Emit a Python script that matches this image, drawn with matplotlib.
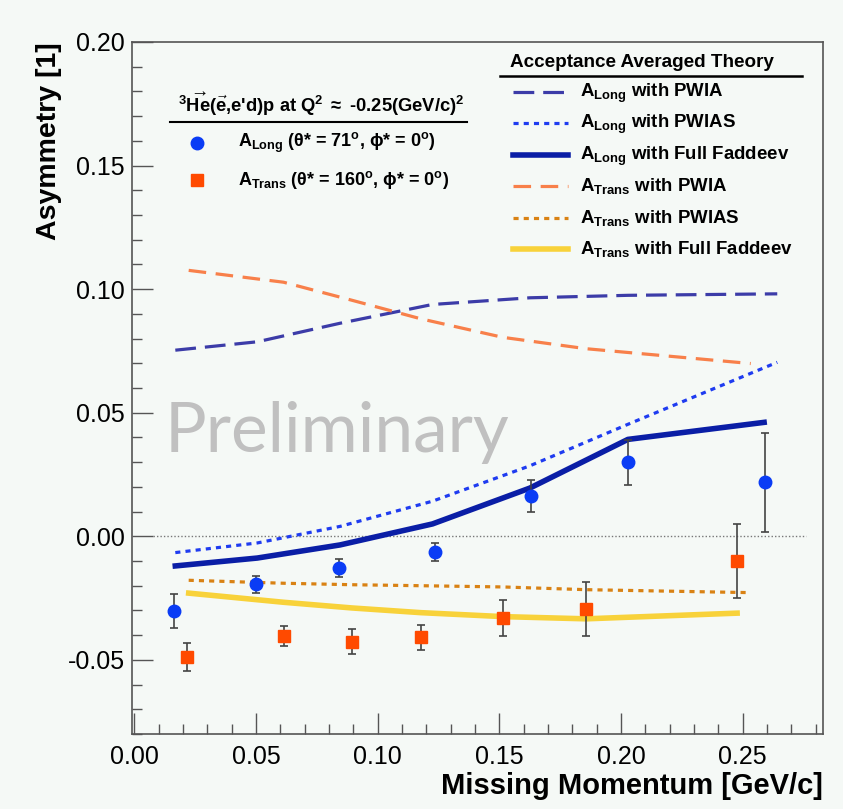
import matplotlib
matplotlib.use("Agg")
import matplotlib.pyplot as plt
from matplotlib.lines import Line2D

plt.rcParams['font.family'] = ['Liberation Sans', 'DejaVu Sans']
plt.rcParams['mathtext.fontset'] = 'custom'
plt.rcParams['mathtext.rm'] = 'Liberation Sans:bold'
plt.rcParams['mathtext.bf'] = 'Liberation Sans:bold'
plt.rcParams['mathtext.it'] = 'Liberation Sans:bold'
plt.rcParams['mathtext.default'] = 'bf'

# measured asymmetries
long_x = [0.0163, 0.0499, 0.0839, 0.1234, 0.1628, 0.2028, 0.2591]
long_y = [-0.0302, -0.0195, -0.0128, -0.0063, 0.0163, 0.0299, 0.0218]
long_err = [0.0070, 0.0034, 0.0035, 0.0036, 0.0066, 0.0090, 0.0200]

trans_x = [0.0218, 0.0613, 0.0894, 0.1177, 0.1514, 0.1856, 0.2477]
trans_y = [-0.0490, -0.0403, -0.0427, -0.0409, -0.0329, -0.0295, -0.0100]
trans_err = [0.0057, 0.0040, 0.0051, 0.0052, 0.0073, 0.0110, 0.0150]

# acceptance averaged theory
long_th_x = [0.0168, 0.0505, 0.0845, 0.1225, 0.1625, 0.2028, 0.2642]
long_pwia = [0.0753, 0.0787, 0.0862, 0.0938, 0.0965, 0.0975, 0.0981]
long_pwias = [-0.0066, -0.0027, 0.0040, 0.0142, 0.0285, 0.0453, 0.0704]
long_full_x = [0.0168, 0.0505, 0.0845, 0.1225, 0.1625, 0.2028, 0.2588]
long_full = [-0.0120, -0.0088, -0.0035, 0.0050, 0.0195, 0.0392, 0.0461]

trans_th_x = [0.0223, 0.0613, 0.0894, 0.1177, 0.1514, 0.1856, 0.2533]
trans_pwia = [0.1076, 0.1028, 0.0955, 0.0880, 0.0805, 0.0759, 0.0699]
trans_pwias = [-0.0178, -0.0190, -0.0196, -0.0200, -0.0205, -0.0216, -0.0228]
trans_full_x = [0.0223, 0.0613, 0.0894, 0.1177, 0.1514, 0.1856, 0.2477]
trans_full = [-0.0230, -0.0267, -0.0290, -0.0309, -0.0325, -0.0334, -0.0311]

W, H = 843, 809
bg = '#f5f9f6'
fig = plt.figure(figsize=(W / 100, H / 100), dpi=100, facecolor=bg)
ax = fig.add_axes([132 / W, 1 - 734 / H, 691 / W, 692 / H], facecolor=bg)

def fpos(x, y):
    # figure pixel -> figure fraction
    return x / W, 1 - y / H

c_navy = '#3c3ca8'
c_dot = '#1f3cf0'
c_full = '#0a1ea6'
c_or = '#f8804a'
c_ordot = '#d98214'
c_yel = '#f8d23a'
c_mblue = '#0a3cf5'
c_mred = '#ff4a00'

styles = {
    'long_pwia': dict(color=c_navy, lw=2.3, dashes=(6.5, 2.8)),
    'long_pwias': dict(color=c_dot, lw=2.3, dashes=(1.6, 1.6)),
    'long_full': dict(color=c_full, lw=4.0),
    'trans_pwia': dict(color=c_or, lw=2.3, dashes=(5.5, 3.0)),
    'trans_pwias': dict(color=c_ordot, lw=2.3, dashes=(1.6, 1.6)),
    'trans_full': dict(color=c_yel, lw=4.0),
}

ax.axhline(0, xmin=0.03, xmax=0.975, color='#777777', lw=1.0, ls=(0, (1, 1.5)))

ax.plot(long_th_x, long_pwia, **styles['long_pwia'])
ax.plot(trans_th_x, trans_pwia, **styles['trans_pwia'])
ax.plot(long_th_x, long_pwias, **styles['long_pwias'])
ax.plot(trans_th_x, trans_pwias, **styles['trans_pwias'])
ax.plot(trans_full_x, trans_full, **styles['trans_full'])
ax.plot(long_full_x, long_full, **styles['long_full'])

ax.errorbar(long_x, long_y, yerr=long_err, fmt='o', color=c_mblue, ms=9,
            ecolor='#444444', elinewidth=1.2, capsize=3, capthick=1.2, zorder=5)
ax.errorbar(trans_x, trans_y, yerr=trans_err, fmt='s', color=c_mred, ms=9,
            ecolor='#444444', elinewidth=1.2, capsize=3, capthick=1.2, zorder=5)

# watermark
fig.text(*fpos(165, 452), 'Preliminary', fontsize=50, color='#c0c0c0',
         family=['Lato', 'DejaVu Sans'], ha='left', va='baseline', zorder=0)

ax.set_xlim(-0.001, 0.283)
ax.set_ylim(-0.08, 0.20)
ax.set_xticks([0.00, 0.05, 0.10, 0.15, 0.20, 0.25])
ax.set_xticks([i * 0.01 for i in range(29)], minor=True)
ax.set_yticks([-0.05, 0.00, 0.05, 0.10, 0.15, 0.20])
ax.set_yticks([-0.08 + i * 0.01 for i in range(29)], minor=True)
ax.xaxis.set_major_formatter(plt.FormatStrFormatter('%.2f'))
ax.yaxis.set_major_formatter(plt.FormatStrFormatter('%.2f'))
ax.tick_params(which='both', direction='in', color='#555555', width=1.0,
               labelsize=18, top=False, right=False)
ax.tick_params(which='major', length=15)
ax.tick_params(which='minor', length=7.5)
ax.tick_params(axis='x', pad=8)
ax.tick_params(axis='y', pad=5)
for s in ax.spines.values():
    s.set_color('#555555')
    s.set_linewidth(1.2)

ax.set_xlabel('Missing Momentum [GeV/c]', fontsize=21, fontweight='bold',
              loc='right', labelpad=2)
ax.set_ylabel('Asymmetry [1]', fontsize=20.5, fontweight='bold', loc='top',
              labelpad=4)

# left legend (data)
fig.text(*fpos(178, 112),
         r"$^{3}\overrightarrow{\mathbf{He}}(\vec{\mathbf{e}}$,e'd)p at Q$^{2}$ $\approx$ -0.25(GeV/c)$^{2}$",
         fontsize=13.2, fontweight='bold', va='baseline', ha='left')
fig.add_artist(Line2D([170 / W, 467 / W], [1 - 122 / H, 1 - 122 / H],
                      color='black', lw=1.5))
fig.add_artist(Line2D([197 / W], [1 - 143 / H], marker='o', color=c_mblue,
                      ms=9, ls='none'))
fig.add_artist(Line2D([197 / W], [1 - 180 / H], marker='s', color=c_mred,
                      ms=9, ls='none'))
fig.text(*fpos(238, 147), r'A$_{Long}$ (θ* = 71$^{o}$, ϕ* = 0$^{o}$)',
         fontsize=13, fontweight='bold', va='baseline')
fig.text(*fpos(238, 185), r'A$_{Trans}$ (θ* = 160$^{o}$, ϕ* = 0$^{o}$)',
         fontsize=13, fontweight='bold', va='baseline')

# right legend (theory)
fig.text(*fpos(510, 67), 'Acceptance Averaged Theory', fontsize=13.6,
         fontweight='bold', va='baseline')
fig.add_artist(Line2D([500 / W, 802 / W], [1 - 76 / H, 1 - 76 / H],
                      color='black', lw=1.8))
entries = [
    ('long_pwia', r'A$_{Long}$ with PWIA'),
    ('long_pwias', r'A$_{Long}$ with PWIAS'),
    ('long_full', r'A$_{Long}$ with Full Faddeev'),
    ('trans_pwia', r'A$_{Trans}$ with PWIA'),
    ('trans_pwias', r'A$_{Trans}$ with PWIAS'),
    ('trans_full', r'A$_{Trans}$ with Full Faddeev'),
]
for i, (key, label) in enumerate(entries):
    yl = 92 + i * 31.4
    fig.add_artist(Line2D([513 / W, 568 / W], [1 - yl / H, 1 - yl / H],
                          **styles[key]))
    fig.text(*fpos(580, yl + 5), label, fontsize=13.4, fontweight='bold',
             va='baseline')

fig.savefig('out.png', dpi=100, facecolor=bg)
